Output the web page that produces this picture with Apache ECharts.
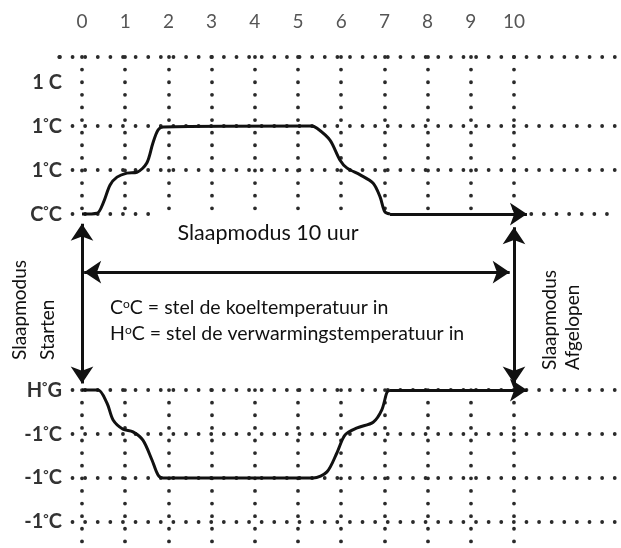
<!DOCTYPE html>
<html><head><meta charset="utf-8">
<script src="https://cdn.jsdelivr.net/npm/echarts@6/dist/echarts.min.js"></script>
<style>html,body{margin:0;padding:0;background:#fff}#c{width:621px;height:548px}</style>
</head><body><div id="c"></div>
<script>
// ---- data ----
const xTicks = [0,1,2,3,4,5,6,7,8,9,10];
const yTickValues = [3.57, 3, 2, 1, 0, -4, -5, -6, -7];
const yTickLabels = ['·', '1 C', '1°C', '1°C', 'C°C', 'H°G', '-1°C', '-1°C', '-1°C'];
// cooling setpoint curve (upper)
const coolX = [0, 0.35, 0.49, 0.65, 0.81, 1.04, 1.27, 1.50, 1.64, 1.76, 1.88, 5.3, 5.44, 5.74, 5.97, 6.13, 6.44, 6.74, 6.90, 7.01, 7.13];
const coolY = [0, 0.02, 0.25, 0.66, 0.84, 0.93, 0.95, 1.16, 1.61, 1.91, 1.98, 2, 1.95, 1.68, 1.23, 1.05, 0.89, 0.70, 0.39, 0.05, 0];
// heating setpoint curve (lower)
const heatX = [0, 0.37, 0.58, 0.72, 0.95, 1.18, 1.41, 1.62, 1.76, 1.88, 5.35, 5.67, 5.90, 6.09, 6.37, 6.74, 6.94, 7.06, 7.13];
const heatY = [-4, -4, -4.3, -4.68, -4.89, -4.95, -5.14, -5.59, -5.93, -6, -6, -5.86, -5.43, -5.02, -4.86, -4.73, -4.45, -4.05, -4];
const sleepEnd = 10.3;
// grid rows / columns (dotted)
const rowValues = [3.57, 2, 1, -4, -5, -6, -7];
const rowStart = [-0.51, -0.22, -0.22, -0.22, -0.22, -0.22, -0.22];
const coolRowSegments = [[-0.22, 1.7], [10.4, 12.34]];
const colValues = [0,1,2,3,4,5,6,7,8,9,10];
const xMin = -0.4167, xMax = 12.338, yMin = -7.59, yMax = 3.57;

// ---- build ----
const FONT = 'Lato, "Open Sans", sans-serif';
const dotted = [];
rowValues.forEach((v,i)=>dotted.push({coords:[[rowStart[i], v],[xMax, v]]}));
coolRowSegments.forEach(s=>dotted.push({coords:[[s[0],0],[s[1],0]]}));
colValues.forEach(c=>{
  dotted.push({coords:[[c, yMax],[c, 0.1]]});
  dotted.push({coords:[[c, -4],[c, yMin]]});
});
const pair = (xs, ys) => xs.map((x,i)=>[x, ys[i]]);
const arrowStyle = {color:'#111', width:3, type:'solid', opacity:1};
const richLabel = (s) => s.split('°').map(p=>'{a|'+p+'}').join('{d|°}');
const supText = (a, b) => '{n|'+a+'}{s|o}{n|'+b+'}';
const boxRich = {n:{fontSize:19.5, fontFamily:FONT, fill:'#111'}, s:{fontSize:12, lineHeight:8, fontFamily:FONT, fill:'#111', verticalAlign:'top'}};

const chart = echarts.init(document.getElementById('c'));
chart.setOption({
  animation:false,
  grid:{left:64, right:6, top:57, bottom:0, outerBoundsMode:'none'},
  xAxis:{type:'value', position:'top', min:xMin, max:xMax,
    axisLine:{show:false}, axisTick:{show:false}, splitLine:{show:false},
    axisLabel:{customValues:xTicks, fontSize:19, color:'#555', margin:26, fontFamily:FONT}},
  yAxis:{type:'value', min:yMin, max:yMax,
    axisLine:{show:false}, axisTick:{show:false}, splitLine:{show:false},
    axisLabel:{customValues:yTickValues, margin:2, color:'#222', fontFamily:FONT,
      formatter:(v)=>{const i=yTickValues.findIndex(t=>Math.abs(t-v)<1e-6);return i>=0?richLabel(yTickLabels[i]):'';},
      rich:{a:{fontSize:20, fontWeight:'bold', color:'#333', fontFamily:FONT},
            d:{fontSize:13, fontWeight:'bold', color:'#333', fontFamily:FONT, lineHeight:8, verticalAlign:'top'}}}},
  series:[
    {type:'lines', coordinateSystem:'cartesian2d', silent:true, clip:false, z:1,
     lineStyle:{color:'#2a2a2a', width:3.8, type:[0.01,12.6], cap:'round', opacity:1},
     data:dotted},
    {type:'line', data:pair(coolX,coolY), smooth:0.3, showSymbol:false, clip:false, z:5,
     lineStyle:{color:'#111', width:3}},
    {type:'line', data:pair(heatX,heatY), smooth:0.3, showSymbol:false, clip:false, z:5,
     lineStyle:{color:'#111', width:3}},
    {type:'lines', coordinateSystem:'cartesian2d', silent:true, clip:false, z:6,
     symbol:['none','arrow'], symbolSize:17, lineStyle:arrowStyle,
     data:[{coords:[[coolX[coolX.length-1],0],[sleepEnd,0]]},{coords:[[heatX[heatX.length-1],-4],[sleepEnd,-4]]}]},
    {type:'lines', coordinateSystem:'cartesian2d', silent:true, clip:false, z:6,
     symbol:['arrow','arrow'], symbolSize:17, lineStyle:arrowStyle,
     data:[{coords:[[0.05,-1.32],[9.9,-1.32]]},{coords:[[0,-0.22],[0,-3.85]]},{coords:[[10,-0.3],[10,-3.85]]}]}
  ],
  graphic:[
    {type:'text', x:268, y:233, style:{text:'Slaapmodus 10 uur', font:'21.5px '+FONT, fill:'#111', textAlign:'center', textVerticalAlign:'middle'}},
    {type:'text', x:110, y:308, style:{text:supText('C','C = stel de koeltemperatuur in'), textAlign:'left', textVerticalAlign:'middle', rich:boxRich}},
    {type:'text', x:110, y:334, style:{text:supText('H','C = stel de verwarmingstemperatuur in'), textAlign:'left', textVerticalAlign:'middle', rich:boxRich}},
    {type:'text', x:20, y:360, rotation:Math.PI/2, style:{text:'Slaapmodus', font:'19px '+FONT, fill:'#111', textAlign:'left', textVerticalAlign:'middle'}},
    {type:'text', x:48, y:360, rotation:Math.PI/2, style:{text:'Starten', font:'19px '+FONT, fill:'#111', textAlign:'left', textVerticalAlign:'middle'}},
    {type:'text', x:550, y:370, rotation:Math.PI/2, style:{text:'Slaapmodus', font:'19px '+FONT, fill:'#111', textAlign:'left', textVerticalAlign:'middle'}},
    {type:'text', x:573, y:370, rotation:Math.PI/2, style:{text:'Afgelopen', font:'19px '+FONT, fill:'#111', textAlign:'left', textVerticalAlign:'middle'}}
  ]
});
</script></body></html>
